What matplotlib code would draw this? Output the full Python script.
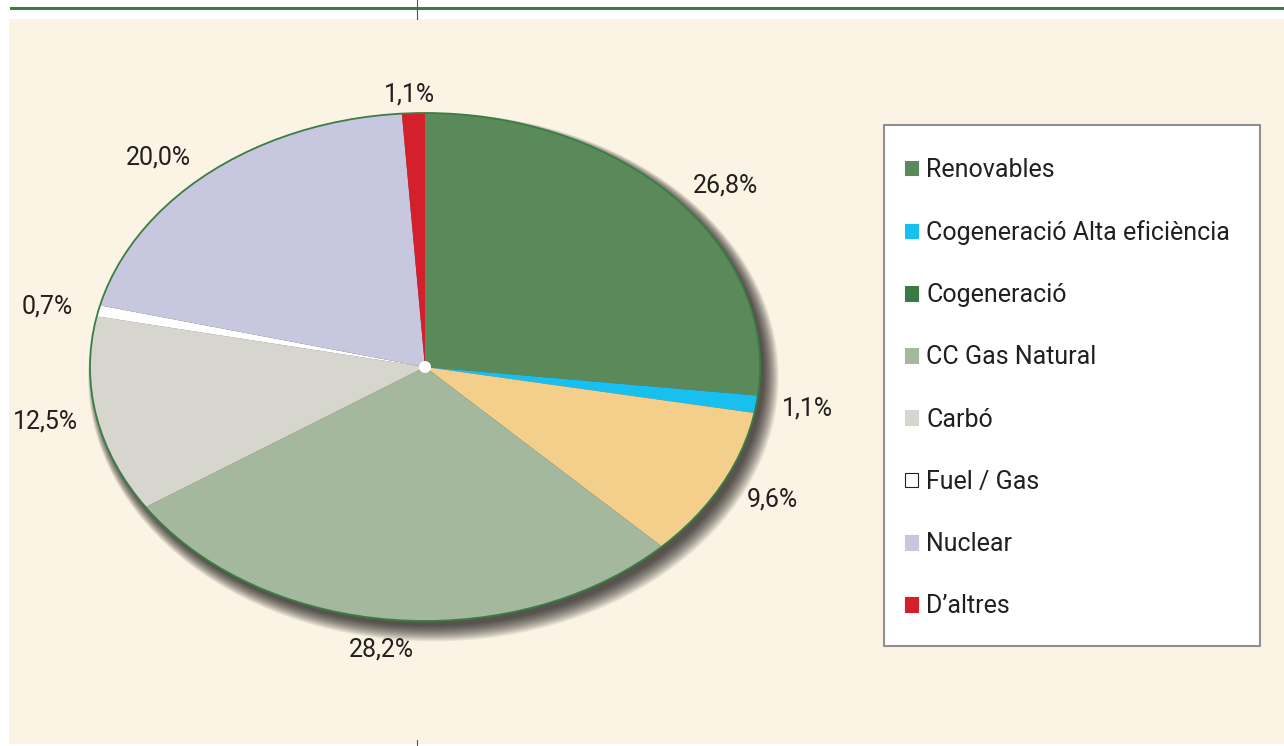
import numpy as np
import matplotlib.pyplot as plt
from matplotlib.patches import Ellipse, Rectangle, Patch
from matplotlib.transforms import offset_copy

plt.rcParams['font.family'] = ['Roboto', 'DejaVu Sans']

categories = ['Renovables', 'Cogeneració Alta eficiència', 'Cogeneració', 'CC Gas Natural',
              'Carbó', 'Fuel / Gas', 'Nuclear', 'D’altres']
shares = [26.8, 1.1, 9.6, 28.2, 12.5, 0.7, 20.0, 1.1]
slice_colors = ['#5a8a5a', '#17c0ef', '#f3cf8b', '#a3b89c', '#d6d5ce', '#ffffff', '#c7c7df', '#d4202a']
legend_colors = ['#5a8a5a', '#17c0ef', '#3a7a45', '#a3b89c', '#d6d5ce', '#ffffff', '#c7c7df', '#d4202a']

W, H = 1284, 746
fig = plt.figure(figsize=(W / 100, H / 100), dpi=100)
fig.patch.set_facecolor('white')

# background decoration in pixel coords
bg = fig.add_axes([0, 0, 1, 1])
bg.set_xlim(0, W)
bg.set_ylim(H, 0)
bg.axis('off')
bg.add_patch(Rectangle((9, 19), W - 9, 725, color='#fbf3e4', lw=0))
bg.plot([11, W], [7.5, 7.5], color='#3b7d45', lw=2.2)
bg.plot([416.5, 416.5], [0, 19], color='#555555', lw=0.8)
bg.plot([416.5, 416.5], [740, 746], color='#555555', lw=0.8)
bg.add_patch(Rectangle((884, 125), 376, 521, facecolor='white', edgecolor='#8f8f8f', lw=1.5))

# pie axes spans the ellipse
ax = fig.add_axes([90 / W, 1 - 621 / H, 670 / W, 508 / H])
px, py = 1 / 335, 1 / 254

# soft drop shadow towards bottom right
for b in np.linspace(0, 15, 30):
    ax.add_patch(Ellipse(((4 + 0.3 * b) * px, -(5 + 0.35 * b) * py),
                         2 + 1.4 * b * px, 2 + 1.4 * b * py,
                         facecolor='black', alpha=0.033, lw=0, clip_on=False))

wedges, _ = ax.pie(shares, colors=slice_colors, startangle=90, counterclock=False,
                   wedgeprops=dict(linewidth=0))
for w in wedges:
    w.set_clip_on(False)

# value labels just outside the rim, pushed mostly sideways
for w, v in zip(wedges, shares):
    th = np.deg2rad((w.theta1 + w.theta2) / 2)
    dx = 51 * np.clip(2 * np.cos(th), -1, 1)
    dy = (19 if np.sin(th) > 0 else 30) * np.sin(th)
    tr = offset_copy(ax.transData, fig=fig, x=dx, y=dy, units='dots')
    ax.text(np.cos(th), np.sin(th), f'{v:.1f}'.replace('.', ',') + '%', transform=tr,
            ha='center', va='center', fontsize=18, color='#231f20')

ax.add_patch(Ellipse((0, 0), 2, 2, fill=False, edgecolor='#3b7d45', lw=1.3, clip_on=False))
ax.add_patch(Ellipse((0, 0), 12 * px, 12 * py, facecolor='white', lw=0, clip_on=False))
ax.set_xlim(-1, 1)
ax.set_ylim(-1, 1)
ax.set_aspect('auto')
ax.axis('off')

handles = [Patch(facecolor=c, edgecolor='#231f20' if c == '#ffffff' else c, lw=0.8)
           for c in legend_colors]
fig.legend(handles, categories, loc='center left', bbox_to_anchor=(905 / W, 1 - 388 / H),
           frameon=False, fontsize=18, labelcolor='#231f20', borderpad=0, borderaxespad=0,
           handlelength=0.52, handleheight=0.52, handletextpad=0.32, labelspacing=1.53)

fig.savefig('out.png', dpi=100, facecolor='white')
